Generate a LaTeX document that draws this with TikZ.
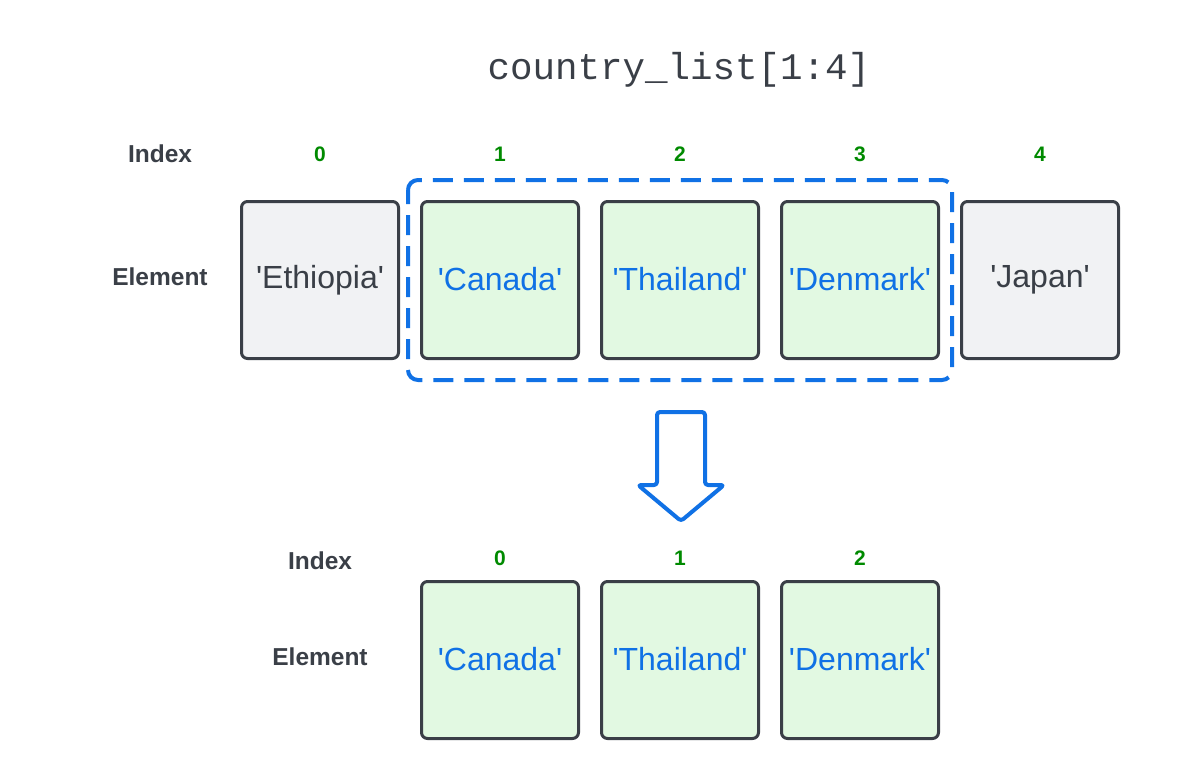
\documentclass[tikz,border=0pt]{standalone}
\usepackage{fontspec}
\setmainfont{Liberation Sans}
\setmonofont{Liberation Mono}
\definecolor{dark}{HTML}{3A3F47}
\definecolor{blu}{HTML}{1071E5}
\definecolor{grn}{HTML}{008A00}
\definecolor{gfill}{HTML}{F1F2F4}
\definecolor{lgreen}{HTML}{E2F9E2}
\newcommand{\q}[1]{\raisebox{3pt}{\textquotesingle#1\textquotesingle}}
\begin{document}
\begin{tikzpicture}[x=1pt,y=-1pt,
  cell/.style={draw=dark,line width=3pt,rounded corners=6pt,minimum width=157pt,minimum height=157pt,inner sep=0pt,font=\fontsize{32}{36}\selectfont},
  grey/.style={cell,fill=gfill,text=dark},
  sel/.style={cell,fill=lgreen,text=blu},
  lbl/.style={font=\fontsize{24.5}{28}\selectfont\bfseries,text=dark},
  idx/.style={font=\fontsize{21}{26}\selectfont\bfseries,text=grn}]
\useasboundingbox (0,0) rectangle (1200,780);
\node[font=\ttfamily\fontsize{37.5}{42}\selectfont,text=dark] (title) at (679,70) {country\_list[1:4]};
% top row
\node[lbl] (ti) at (160,154) {Index};
\node[lbl] (te) at (160,277) {Element};
\node[grey] (a0) at (320,280) {\q{Ethiopia}};
\node[sel] (a1) at (500,280) {\q{Canada}};
\node[sel] (a2) at (680,280) {\q{Thailand}};
\node[sel] (a3) at (860,280) {\q{Denmark}};
\node[grey] (a4) at (1040,280) {\q{Japan}};
\foreach \i in {0,...,4} {\node[idx] (n\i) at (320+180*\i,154) {\i};}
\draw[blu,line width=4pt,rounded corners=10pt,dash pattern=on 20pt off 11pt,dash phase=6pt] (408,180) rectangle (952,380);
% arrow
\draw[blu,line width=4pt,line join=round,fill=white,rounded corners=3pt]
  (657,412) -- (705,412) -- (705,485) -- (724,485) -- (681,521) -- (638,485) -- (657,485) -- cycle;
% bottom row
\node[lbl] (bi) at (320,561) {Index};
\node[lbl] (be) at (320,657) {Element};
\node[sel] (b0) at (500,660) {\q{Canada}};
\node[sel] (b1) at (680,660) {\q{Thailand}};
\node[sel] (b2) at (860,660) {\q{Denmark}};
\foreach \i in {0,1,2} {\node[idx] (m\i) at (500+180*\i,558) {\i};}
\end{tikzpicture}
\end{document}
